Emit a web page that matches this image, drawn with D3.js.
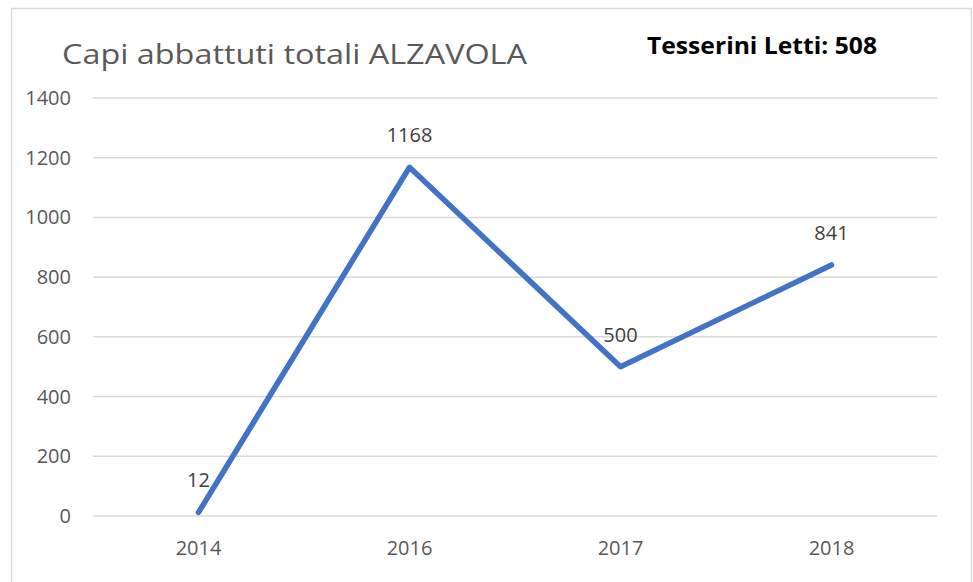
<!DOCTYPE html>
<html><head><meta charset="utf-8">
<script src="https://cdn.jsdelivr.net/npm/d3@7"></script>
<style>body{margin:0;background:#fff}svg{display:block}</style>
</head><body>
<svg id="c" width="973" height="582"></svg>
<script>
const categories = ["2014", "2016", "2017", "2018"];
const values = [12, 1168, 500, 841];
const yTicks = [0, 200, 400, 600, 800, 1000, 1200, 1400];
const title = "Capi abbattuti totali ALZAVOLA";
const note = "Tesserini Letti: 508";

const svg = d3.select("#c");
const font = "'Open Sans', sans-serif";
svg.append("rect").attr("x", 11.5).attr("y", 8.5).attr("width", 960).attr("height", 590)
  .attr("fill", "#fff").attr("stroke", "#d9d9d9").attr("stroke-width", 1.5);

const x = d3.scaleBand().domain(categories).range([93, 937]);
const y = d3.scaleLinear().domain([0, 1400]).range([516, 98]);

svg.append("g").selectAll("line").data(yTicks).join("line")
  .attr("x1", 93).attr("x2", 937).attr("y1", d => y(d)).attr("y2", d => y(d))
  .attr("stroke", "#d9d9d9").attr("stroke-width", 1.5);

svg.append("g").selectAll("text").data(yTicks).join("text")
  .attr("x", 71).attr("y", d => y(d)).attr("dy", "0.35em").attr("text-anchor", "end")
  .attr("font-family", font).attr("font-size", 20).attr("fill", "#595959").text(d => d);

svg.append("g").selectAll("text").data(categories).join("text")
  .attr("x", d => x(d) + x.bandwidth() / 2).attr("y", 555).attr("text-anchor", "middle")
  .attr("font-family", font).attr("font-size", 20).attr("fill", "#595959").text(d => d);

const line = d3.line().x((d, i) => x(categories[i]) + x.bandwidth() / 2).y(d => y(d));
svg.append("path").datum(values).attr("d", line).attr("fill", "none")
  .attr("stroke", "#4472C4").attr("stroke-width", 5.5).attr("stroke-linecap", "round").attr("stroke-linejoin", "round");

svg.append("g").selectAll("text").data(values).join("text")
  .attr("x", (d, i) => x(categories[i]) + x.bandwidth() / 2).attr("y", d => y(d) - 25)
  .attr("text-anchor", "middle").attr("font-family", font).attr("font-size", 20).attr("fill", "#404040").text(d => d);

svg.append("text").attr("x", 62).attr("y", 64).attr("font-family", font).attr("font-size", 27)
  .attr("fill", "#595959").attr("textLength", 465).attr("lengthAdjust", "spacingAndGlyphs").text(title);
svg.append("text").attr("x", 647).attr("y", 54).attr("font-family", font).attr("font-size", 24)
  .attr("font-weight", "bold").attr("fill", "#000").attr("textLength", 230).attr("lengthAdjust", "spacingAndGlyphs").text(note);
</script>
</body></html>
